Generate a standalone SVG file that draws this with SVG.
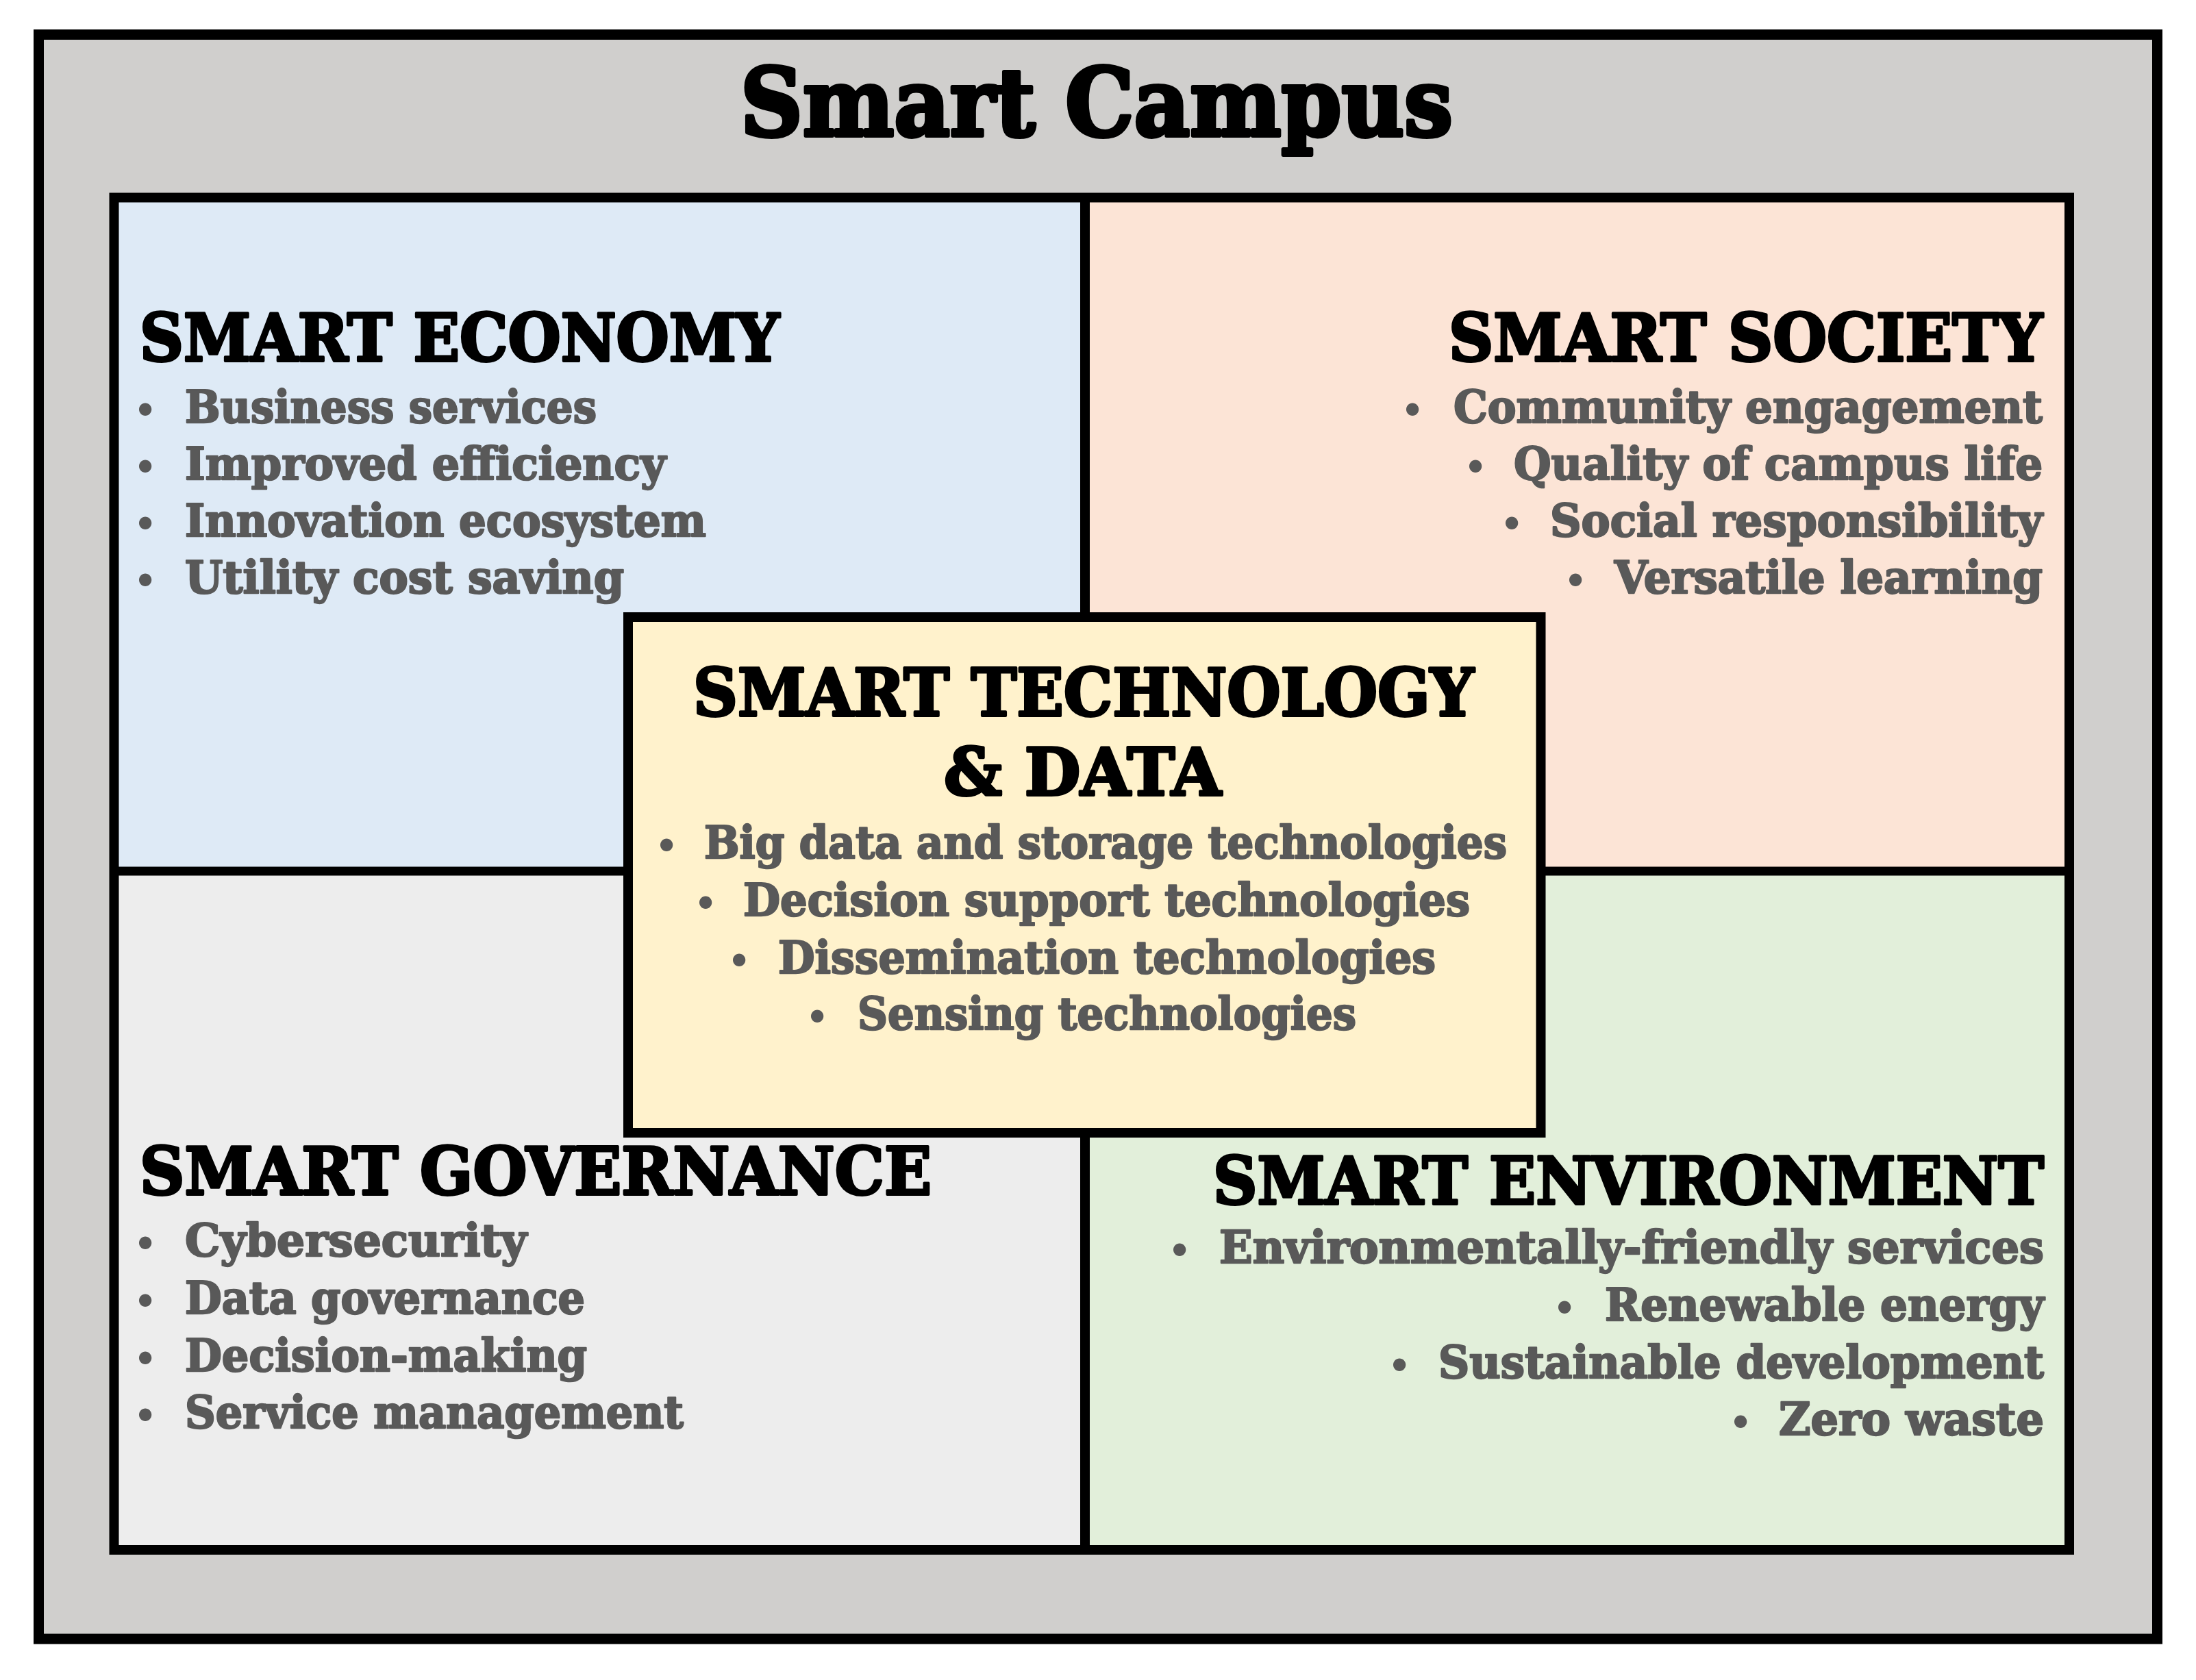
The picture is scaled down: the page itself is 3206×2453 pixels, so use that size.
<svg xmlns="http://www.w3.org/2000/svg" width="3206" height="2453" viewBox="0 0 3206 2453">
<style>
.frame{stroke:#000;stroke-width:15;fill:#D0CFCD}
.box{stroke:#000;stroke-width:14;fill:none}
.ttl{font-family:"DejaVu Serif","Liberation Serif",serif;font-weight:bold;font-size:136px;fill:#000;stroke:#000;stroke-width:6;stroke-linejoin:round}
.hd{font-family:"DejaVu Serif","Liberation Serif",serif;font-weight:bold;font-size:96px;fill:#000;stroke:#000;stroke-width:4;stroke-linejoin:round}
.it{font-family:"DejaVu Serif","Liberation Serif",serif;font-weight:bold;font-size:65px;fill:#595959;stroke:#595959;stroke-width:2.5;stroke-linejoin:round}
.bl{font-family:"DejaVu Serif","Liberation Serif",serif;font-weight:bold;font-size:52px;fill:#595959;text-anchor:middle}
.r{text-anchor:end}
</style>
<rect width="3206" height="2453" fill="#fff"/>
<g id="smart-campus">
<rect class="frame" x="56.5" y="50.5" width="3093" height="2342.5"/>
<text class="ttl" x="1081" y="198" textLength="1040" lengthAdjust="spacingAndGlyphs">Smart Campus</text>
</g>
<g id="quadrants">
<rect x="166.5" y="288.5" width="1417.5" height="983.5" fill="#DEEAF6"/>
<rect x="1584" y="288.5" width="1437" height="983.5" fill="#FCE4D6"/>
<rect x="166.5" y="1272" width="1417.5" height="991" fill="#EDEDED"/>
<rect x="1584" y="1272" width="1437" height="991" fill="#E2EFDA"/>
<line x1="1584" y1="288.5" x2="1584" y2="2263" stroke="#000" stroke-width="14"/>
<line x1="166.5" y1="1272" x2="3021" y2="1272" stroke="#000" stroke-width="13"/>
<rect class="box" x="166.5" y="288.5" width="2854.5" height="1974.5"/>
</g>
<g id="smart-economy">
<text class="hd" x="204" y="527" textLength="934" lengthAdjust="spacingAndGlyphs">SMART ECONOMY</text>
<text class="bl" x="212" y="617">•</text><text class="it" x="270" y="617" textLength="601" lengthAdjust="spacingAndGlyphs">Business services</text>
<text class="bl" x="212" y="700">•</text><text class="it" x="270" y="700" textLength="702" lengthAdjust="spacingAndGlyphs">Improved efficiency</text>
<text class="bl" x="212" y="783">•</text><text class="it" x="270" y="783" textLength="761" lengthAdjust="spacingAndGlyphs">Innovation ecosystem</text>
<text class="bl" x="212" y="866">•</text><text class="it" x="270" y="866" textLength="641" lengthAdjust="spacingAndGlyphs">Utility cost saving</text>
</g>
<g id="smart-society">
<text class="hd r" x="2982" y="527" textLength="867" lengthAdjust="spacingAndGlyphs">SMART SOCIETY</text>
<text class="bl" x="2062" y="617">•</text><text class="it r" x="2982" y="617" textLength="860" lengthAdjust="spacingAndGlyphs">Community engagement</text>
<text class="bl" x="2154" y="700">•</text><text class="it r" x="2982" y="700" textLength="772" lengthAdjust="spacingAndGlyphs">Quality of campus life</text>
<text class="bl" x="2207" y="783">•</text><text class="it r" x="2982" y="783" textLength="719" lengthAdjust="spacingAndGlyphs">Social responsibility</text>
<text class="bl" x="2300" y="866">•</text><text class="it r" x="2982" y="866" textLength="625" lengthAdjust="spacingAndGlyphs">Versatile learning</text>
</g>
<g id="smart-governance">
<text class="hd" x="204" y="1744" textLength="1156" lengthAdjust="spacingAndGlyphs">SMART GOVERNANCE</text>
<text class="bl" x="212" y="1834">•</text><text class="it" x="270" y="1834" textLength="499" lengthAdjust="spacingAndGlyphs">Cybersecurity</text>
<text class="bl" x="212" y="1918">•</text><text class="it" x="270" y="1918" textLength="584" lengthAdjust="spacingAndGlyphs">Data governance</text>
<text class="bl" x="212" y="2002">•</text><text class="it" x="270" y="2002" textLength="587" lengthAdjust="spacingAndGlyphs">Decision-making</text>
<text class="bl" x="212" y="2085">•</text><text class="it" x="270" y="2085" textLength="728" lengthAdjust="spacingAndGlyphs">Service management</text>
</g>
<g id="smart-environment">
<text class="hd r" x="2984" y="1758" textLength="1213" lengthAdjust="spacingAndGlyphs">SMART ENVIRONMENT</text>
<text class="bl" x="1722" y="1844">•</text><text class="it r" x="2984" y="1844" textLength="1204" lengthAdjust="spacingAndGlyphs">Environmentally-friendly services</text>
<text class="bl" x="2284" y="1928">•</text><text class="it r" x="2984" y="1928" textLength="641" lengthAdjust="spacingAndGlyphs">Renewable energy</text>
<text class="bl" x="2043" y="2012">•</text><text class="it r" x="2984" y="2012" textLength="884" lengthAdjust="spacingAndGlyphs">Sustainable development</text>
<text class="bl" x="2541" y="2095">•</text><text class="it r" x="2984" y="2095" textLength="387" lengthAdjust="spacingAndGlyphs">Zero waste</text>
</g>
<g id="smart-technology-data">
<rect x="917" y="901" width="1332.5" height="753" fill="#FFF2CC" stroke="#000" stroke-width="14"/>
<text class="hd" x="1012" y="1045" textLength="1140" lengthAdjust="spacingAndGlyphs">SMART TECHNOLOGY</text>
<text class="hd" x="1378" y="1161" textLength="405" lengthAdjust="spacingAndGlyphs">&amp; DATA</text>
<text class="bl" x="973" y="1253">•</text><text class="it" x="1028" y="1253" textLength="1172" lengthAdjust="spacingAndGlyphs">Big data and storage technologies</text>
<text class="bl" x="1030" y="1337">•</text><text class="it" x="1085" y="1337" textLength="1061" lengthAdjust="spacingAndGlyphs">Decision support technologies</text>
<text class="bl" x="1079" y="1421">•</text><text class="it" x="1136" y="1421" textLength="960" lengthAdjust="spacingAndGlyphs">Dissemination technologies</text>
<text class="bl" x="1193" y="1503">•</text><text class="it" x="1252" y="1503" textLength="728" lengthAdjust="spacingAndGlyphs">Sensing technologies</text>
</g>
</svg>
